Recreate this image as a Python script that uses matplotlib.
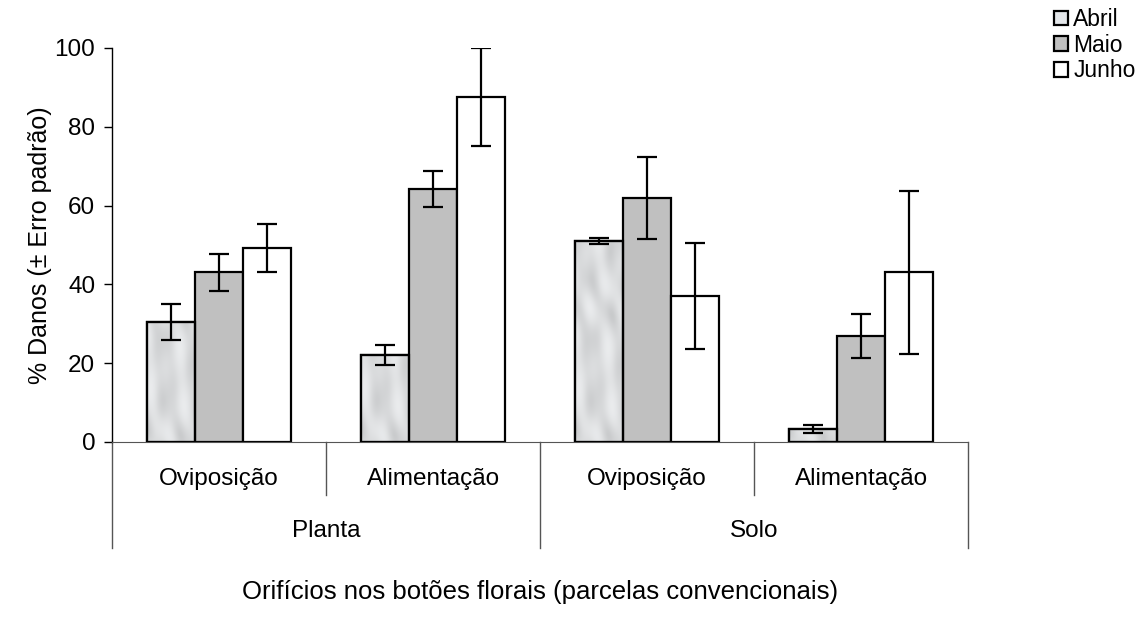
import numpy as np
import matplotlib.pyplot as plt
from matplotlib.patches import Patch
from matplotlib.transforms import blended_transform_factory

plt.rcParams['font.family'] = ['Liberation Sans', 'DejaVu Sans']

# dados
subcats = ['Oviposição', 'Alimentação', 'Oviposição', 'Alimentação']
groups = ['Planta', 'Solo']
meses = ['Abril', 'Maio', 'Junho']

abril = [30.5, 22.1, 51.0, 3.2]
maio = [43.1, 64.2, 61.9, 26.9]
junho = [49.2, 87.6, 37.1, 43.1]

abril_err = [4.6, 2.5, 0.8, 1.0]
maio_err = [4.7, 4.5, 10.5, 5.6]
junho_err = [6.1, 12.5, 13.5, 20.7]

yticks = [0, 20, 40, 60, 80, 100]

fs = 17.5

fig = plt.figure(figsize=(11.43, 6.28), dpi=100)
ax = fig.add_axes([0.098, 0.2962, 0.749, 0.6274])

x = np.arange(len(subcats))
w = 0.224
series = [(abril, abril_err, '#e4e7ea'), (maio, maio_err, '#c0c0c0'), (junho, junho_err, 'white')]

tex_bars = []
for i, (vals, errs, col) in enumerate(series):
    bars = ax.bar(x + (i - 1) * w, vals, w, color=col, edgecolor='black', linewidth=1.6, zorder=2)
    ax.errorbar(x + (i - 1) * w, vals, yerr=errs, fmt='none', ecolor='black',
                elinewidth=1.6, capsize=7, capthick=1.6, zorder=4)
    if i == 0:
        tex_bars = list(bars)

# textura "marmorizada" clara nas barras de Abril
gx, gy = np.meshgrid(np.linspace(0, 6, 120), np.linspace(0, 30, 400))
tex = (np.sin(gx * 1.6 + gy * 0.8 + np.sin(gy * 0.6) * 1.5)
       + 0.6 * np.sin(gy * 1.3 - gx * 1.1) + 0.4 * np.cos(gx * 3.1 + gy * 0.4))
for b in tex_bars:
    bx, by = b.get_x(), b.get_y()
    im = ax.imshow(tex, cmap='Greys', vmin=-3.5, vmax=9.0, alpha=0.5, aspect='auto',
                   extent=(bx, bx + b.get_width(), 0, 100), origin='lower', zorder=2.5)
    im.set_clip_path(b)
    ax.add_patch(plt.Rectangle((bx, by), b.get_width(), b.get_height(), fill=False,
                               edgecolor='black', linewidth=1.6, zorder=3))

ax.set_xlim(-0.5, 3.5)
ax.set_ylim(0, 100)
ax.set_yticks(yticks)
ax.tick_params(axis='y', labelsize=fs, length=6, width=1, pad=6)
ax.set_xticks([])
ax.spines['top'].set_visible(False)
ax.spines['right'].set_visible(False)
ax.spines['bottom'].set_color('#555555')
ax.spines['left'].set_linewidth(1)
ax.set_ylabel('% Danos (± Erro padrão)', fontsize=18, labelpad=2)

# eixo categórico em dois níveis
tr = blended_transform_factory(ax.transData, ax.transAxes)
for xb in [0.5, 2.5]:
    ax.plot([xb, xb], [0, -0.135], color='#555555', lw=1, transform=tr, clip_on=False)
for xb in [-0.5, 1.5, 3.5]:
    ax.plot([xb, xb], [0, -0.27], color='#555555', lw=1, transform=tr, clip_on=False)
for xi, lab in zip(x, subcats):
    ax.text(xi, -0.095, lab, ha='center', va='center', fontsize=fs, transform=tr)
for gi, lab in enumerate(groups):
    ax.text(0.5 + gi * 2, -0.225, lab, ha='center', va='center', fontsize=fs, transform=tr)

fig.text(0.4725, 0.058, 'Orifícios nos botões florais (parcelas convencionais)',
         ha='center', va='center', fontsize=18.5)

handles = [Patch(facecolor=c, edgecolor='black', linewidth=1.6) for _, _, c in series]
fig.legend(handles, meses, loc='upper left', bbox_to_anchor=(0.914, 1.002), frameon=False,
           fontsize=16.5, handlelength=0.6, handleheight=0.6, handletextpad=0.25,
           labelspacing=0.12, borderaxespad=0)

fig.savefig('out.png', dpi=100)
